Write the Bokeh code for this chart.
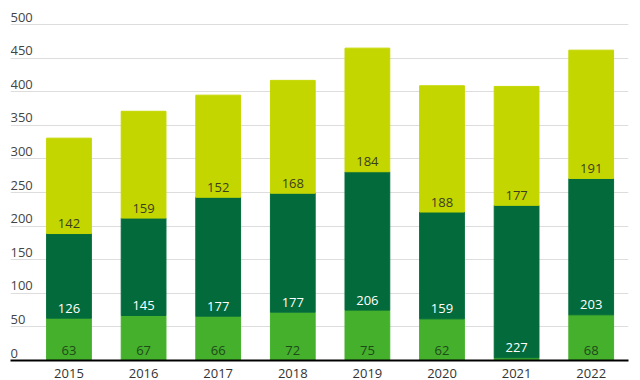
from bokeh.plotting import figure
from bokeh.models import ColumnDataSource, FixedTicker, Range1d
from bokeh.core.properties import value
from bokeh.embed import file_html
from bokeh.resources import INLINE

years = ["2015", "2016", "2017", "2018", "2019", "2020", "2021", "2022"]
bottom_vals = [63, 67, 66, 72, 75, 62, 4, 68]
middle_vals = [126, 145, 177, 177, 206, 159, 227, 203]
top_vals = [142, 159, 152, 168, 184, 188, 177, 191]
y_ticks = [0, 50, 100, 150, 200, 250, 300, 350, 400, 450, 500]

C_BOTTOM = "#45b02c"
C_MIDDLE = "#036b3b"
C_TOP = "#c4d600"
FONT = value("Open Sans")

xs = list(range(len(years)))
b0 = [0] * len(years)
b1 = [b for b in bottom_vals]
b2 = [b + m for b, m in zip(bottom_vals, middle_vals)]
t2 = [b + m + t for b, m, t in zip(bottom_vals, middle_vals, top_vals)]

src = ColumnDataSource(dict(x=xs, b0=b0, b1=b1, b2=b2, t2=t2,
                            lm=[str(v) for v in middle_vals],
                            lt=[str(v) for v in top_vals]))

p = figure(width=640, height=380, output_backend="svg", toolbar_location=None,
           x_range=Range1d(-0.784, 7.5), y_range=Range1d(0, 524),
           min_border_left=10, min_border_right=12, min_border_top=8, min_border_bottom=0)
p.outline_line_color = None
p.background_fill_color = "white"
p.border_fill_color = "white"

W = 0.6
p.vbar(x="x", bottom="b0", top="b1", width=W, color=C_BOTTOM, source=src)
p.vbar(x="x", bottom="b1", top="b2", width=W, color=C_MIDDLE, source=src)
p.vbar(x="x", bottom="b2", top="t2", width=W, color=C_TOP, source=src)

# value labels
lb_src = ColumnDataSource(dict(x=[x for x, v in zip(xs, bottom_vals) if v >= 10],
                               y=[0 for v in bottom_vals if v >= 10],
                               t=[str(v) for v in bottom_vals if v >= 10]))
p.text(x="x", y="y", text="t", source=lb_src, text_align="center", text_baseline="middle",
       y_offset=-10, text_font=FONT, text_font_size="13px", text_color="#1f4a1a")
p.text(x="x", y="b1", text="lm", source=src, text_align="center", text_baseline="middle",
       y_offset=-10, text_font=FONT, text_font_size="13px", text_color="white")
p.text(x="x", y="b2", text="lt", source=src, text_align="center", text_baseline="middle",
       y_offset=-10, text_font=FONT, text_font_size="13px", text_color="#3a3f1f")

# y tick labels above gridlines
yl_src = ColumnDataSource(dict(x=[-0.784] * len(y_ticks), y=y_ticks, t=[str(v) for v in y_ticks]))
p.text(x="x", y="y", text="t", source=yl_src, text_align="left", text_baseline="bottom",
       y_offset=-3, text_font=FONT, text_font_size="13px", text_color="#444444")

p.yaxis.visible = False
p.xgrid.visible = False
p.ygrid.ticker = FixedTicker(ticks=y_ticks)
p.ygrid.grid_line_color = "#dddddd"
p.ygrid.grid_line_width = 1

p.xaxis.ticker = FixedTicker(ticks=xs)
p.xaxis.major_label_overrides = {i: y for i, y in enumerate(years)}
p.xaxis.axis_line_color = "black"
p.xaxis.axis_line_width = 2
p.xaxis.major_tick_line_color = None
p.xaxis.minor_tick_line_color = None
p.xaxis.major_label_standoff = 2
p.xaxis.major_label_text_font = "Open Sans"
p.xaxis.major_label_text_font_size = "13px"
p.xaxis.major_label_text_color = "#333333"

open("out.html", "w").write(file_html(p, INLINE))
